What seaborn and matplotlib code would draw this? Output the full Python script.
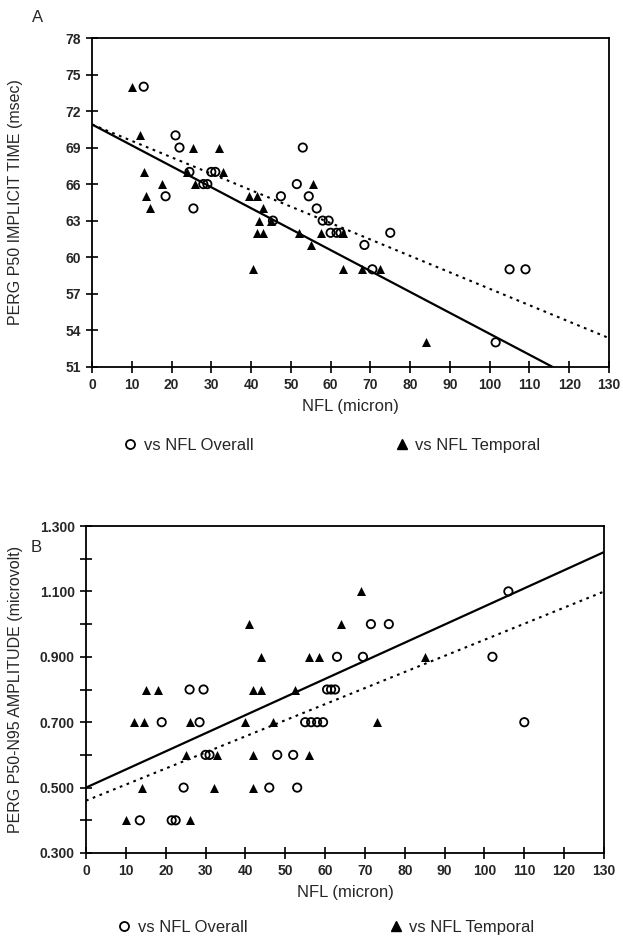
import numpy as np
import pandas as pd
import matplotlib
matplotlib.use("Agg")
import matplotlib.pyplot as plt
import seaborn as sns
from matplotlib.lines import Line2D

# --- Panel A : PERG P50 implicit time vs NFL thickness ---
a_overall_x = [13, 21, 22, 24.5, 30, 31, 28, 29, 18.5, 25.5, 47.5, 45.5, 53, 51.5,
               54.5, 56.5, 58, 59.5, 60, 61.5, 62.5, 75, 68.5, 70.5, 105, 109, 101.5]
a_overall_y = [74, 70, 69, 67, 67, 67, 66, 66, 65, 64, 65, 63, 69, 66,
               65, 64, 63, 63, 62, 62, 62, 62, 61, 59, 59, 59, 53]
a_temporal_x = [10, 12, 25.5, 32, 13, 24, 33, 17.5, 26, 13.5, 14.5, 39.5, 41.5, 43,
                42, 45, 41.5, 43, 40.5, 55.5, 52, 55, 57.5, 63, 63, 68, 72.5, 84]
a_temporal_y = [74, 70, 69, 69, 67, 67, 67, 66, 66, 65, 64, 65, 65, 64,
                63, 63, 62, 62, 59, 66, 62, 61, 62, 62, 59, 59, 59, 53]
# regression lines (intercept, slope)
a_fit_overall = (70.9, -0.135)
a_fit_temporal = (70.9, -0.172)

# --- Panel B : PERG P50-N95 amplitude vs NFL thickness ---
b_overall_x = [26, 29.5, 19, 28.5, 30, 31, 24.5, 13.5, 21.5, 22.5, 48, 52, 46, 53,
               55, 56.5, 58, 59.5, 60.5, 61.5, 62.5, 71.5, 76, 63, 69.5, 106, 102, 110]
b_overall_y = [0.8, 0.8, 0.7, 0.7, 0.6, 0.6, 0.5, 0.4, 0.4, 0.4, 0.6, 0.6, 0.5, 0.5,
               0.7, 0.7, 0.7, 0.7, 0.8, 0.8, 0.8, 1.0, 1.0, 0.9, 0.9, 1.1, 0.9, 0.7]
b_temporal_x = [15, 18, 42, 44, 12, 14.5, 26, 40, 47, 25, 33, 42, 14, 32,
                42, 10, 26, 56, 73, 69, 64, 56, 58.5, 85, 52.5, 41, 44]
b_temporal_y = [0.8, 0.8, 0.8, 0.8, 0.7, 0.7, 0.7, 0.7, 0.7, 0.6, 0.6, 0.6, 0.5, 0.5,
                0.5, 0.4, 0.4, 0.6, 0.7, 1.1, 1.0, 0.9, 0.9, 0.9, 0.8, 1.0, 0.9]
b_fit_overall = (0.460, 0.00492)
b_fit_temporal = (0.500, 0.00554)

x_ticks = list(range(0, 131, 10))
a_y_ticks = list(range(51, 79, 3))
b_y_ticks = [0.3, 0.4, 0.5, 0.6, 0.7, 0.8, 0.9, 1.0, 1.1, 1.2, 1.3]

sns.set_theme(style="ticks")
plt.rcParams['font.family'] = ['Liberation Sans', 'DejaVu Sans']

fig = plt.figure(figsize=(6.23, 9.40), dpi=100)
ax_a = fig.add_axes([92 / 623, 1 - 366.7 / 940, 517 / 623, 328.7 / 940])
ax_b = fig.add_axes([86 / 623, 1 - 853 / 940, 518 / 623, 327 / 940])


def draw_panel(ax, ox, oy, tx, ty, fit_o, fit_t, ylim, yticks, ylabels, ylabel,
               ylab_x, leg_anchor):
    sns.scatterplot(x=ox, y=oy, ax=ax, marker='o', s=36, color='black',
                    linewidth=1.3, zorder=3)
    ax.collections[-1].set_facecolor('none')
    ax.collections[-1].set_edgecolor('black')
    sns.scatterplot(x=tx, y=ty, ax=ax, marker='^', s=42, color='black',
                    linewidth=0, zorder=3)
    xs = np.array([0, 130])
    sns.lineplot(x=xs, y=fit_o[0] + fit_o[1] * xs, ax=ax, color='black',
                 linewidth=1.5, linestyle=(0, (1.3, 2.2)))
    sns.lineplot(x=xs, y=fit_t[0] + fit_t[1] * xs, ax=ax, color='black',
                 linewidth=1.6)
    ax.set_xlim(0, 130)
    ax.set_ylim(*ylim)
    ax.set_xticks(x_ticks)
    ax.set_xticklabels([str(t) for t in x_ticks], fontsize=10, fontweight='bold')
    ax.set_yticks(yticks)
    ax.set_yticklabels(ylabels, fontsize=10, fontweight='bold')
    ax.tick_params(direction='inout', length=8, width=1.2, color='black', pad=4)
    for sp in ax.spines.values():
        sp.set_linewidth(1.3)
        sp.set_color('black')
    ax.set_xlabel('NFL (micron)', fontsize=12, labelpad=5)
    ax.set_ylabel(ylabel, fontsize=11.5)
    ax.yaxis.set_label_coords(ylab_x, 0.5)
    handles = [Line2D([], [], marker='o', linestyle='none', markerfacecolor='none',
                      markeredgecolor='black', markersize=6.5, markeredgewidth=1.3),
               Line2D([], [], marker='^', linestyle='none', color='black',
                      markersize=6.5)]
    ax.legend(handles, ['vs NFL Overall', 'vs NFL Temporal'], ncol=2, frameon=False,
              loc='upper left', bbox_to_anchor=leg_anchor, columnspacing=8.5,
              handlelength=0.8, handletextpad=0.4, fontsize=12)


draw_panel(ax_a, a_overall_x, a_overall_y, a_temporal_x, a_temporal_y,
           a_fit_overall, a_fit_temporal, (51, 78), a_y_ticks,
           [str(t) for t in a_y_ticks], 'PERG P50 IMPLICIT TIME (msec)',
           -0.1335, (0.032, -0.170))
draw_panel(ax_b, b_overall_x, b_overall_y, b_temporal_x, b_temporal_y,
           b_fit_overall, b_fit_temporal, (0.3, 1.3), b_y_ticks,
           [f"{t:.3f}" if i % 2 == 0 else '' for i, t in enumerate(b_y_ticks)],
           'PERG P50-N95 AMPLITUDE (microvolt)', -0.1216, (0.032, -0.160))

fig.text(38 / 623, 1 - 17 / 940, 'A', fontsize=12, ha='center', va='center')
fig.text(36 / 623, 1 - 548 / 940, 'B', fontsize=12, ha='center', va='center')

fig.savefig('out.png', dpi=100)
